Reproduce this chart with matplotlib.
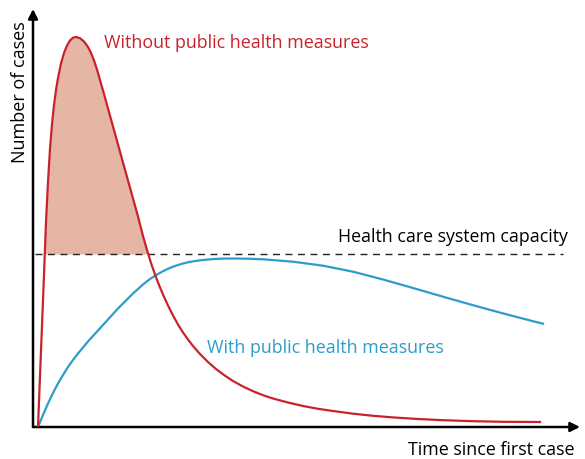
import matplotlib
matplotlib.use("Agg")
import matplotlib.pyplot as plt
import numpy as np

plt.rcParams['font.family'] = ['Open Sans', 'DejaVu Sans']

# time since first case (arbitrary units) and number of cases
t_red = [5, 8, 11, 13, 15, 17, 19, 21, 23, 25, 28, 31, 34, 37, 40, 43, 47, 51, 55,
         58, 61, 64, 67, 71, 75, 80, 85, 90, 95, 100, 105, 110, 114, 118, 122, 126,
         130, 135, 140, 145, 150, 155, 160, 167, 175, 183, 191, 200, 210, 220, 230,
         240, 255, 270, 285, 300, 320, 340, 360, 385, 410, 440, 470, 507]
cases_red = [0, 76, 152, 205, 245, 278, 303, 322, 337, 349, 363.5, 374, 381.5, 386.5,
             389.3, 390, 388.8, 385.5, 380, 374, 366.5, 357.5, 347, 333, 318.5, 300.5,
             282.5, 264.5, 246.5, 228.5, 210.5, 191, 177, 164, 152.5, 142, 132.5, 121.5,
             111.5, 102.5, 94.5, 87.5, 81, 73, 65, 58, 52, 46, 40.5, 35.8, 31.8, 28.5,
             24.5, 21, 18.2, 16, 13.3, 11.2, 9.6, 8, 6.8, 5.8, 5.2, 5]

t_blue = [5, 10, 15, 20, 25, 30, 35, 40, 45, 50, 55, 60, 65, 70, 75, 80, 85, 90, 95,
          100, 105, 110, 115, 120, 125, 130, 135, 140, 145, 150, 155, 160, 165, 170,
          180, 190, 200, 215, 230, 260, 290, 320, 350, 380, 410, 440, 470, 500, 510]
cases_blue = [0, 12, 23.5, 34, 43.5, 52, 60, 67, 73.5, 79.5, 85.5, 91, 96.5, 102,
              107.5, 113, 118.5, 123.5, 128.5, 133.5, 138, 142.5, 146.5, 150, 153, 155.8,
              158.2, 160.3, 162, 163.5, 164.7, 165.6, 166.4, 167, 167.9, 168.4, 168.5,
              168.3, 167.7, 165.3, 161.3, 155.3, 147.5, 139, 130.3, 121.8, 113.6, 105.8,
              103.3]

capacity = 173
t_max = 547
cases_max = 418

red = "#c8232c"
blue = "#2e9ccb"
fill = "#e6b6a4"

fig = plt.figure(figsize=(5.85, 4.6), dpi=100)
ax = fig.add_axes([33 / 585, 32 / 460, 547 / 585, 418 / 460])
ax.set_xlim(0, t_max)
ax.set_ylim(0, cases_max)
ax.axis("off")

# area above capacity
tr = np.array(t_red, dtype=float)
cr = np.array(cases_red, dtype=float)
ax.fill_between(tr, cr, capacity, where=cr >= capacity, interpolate=True,
                color=fill, lw=0, zorder=1)

ax.plot([2, 530], [capacity, capacity], color="#222222", lw=1, ls=(0, (5, 4)), zorder=2)
ax.plot(t_blue, cases_blue, color=blue, lw=1.6, zorder=3, solid_joinstyle="round")
ax.plot(t_red, cases_red, color=red, lw=1.6, zorder=4, solid_joinstyle="round")

# axes with arrows
ax.annotate("", xy=(0, 1), xytext=(0, 0), xycoords="axes fraction",
            arrowprops=dict(arrowstyle="-|>", lw=1.8, color="black", mutation_scale=14,
                            shrinkA=0, shrinkB=0), annotation_clip=False)
ax.annotate("", xy=(1, 0), xytext=(0, 0), xycoords="axes fraction",
            arrowprops=dict(arrowstyle="-|>", lw=1.8, color="black", mutation_scale=14,
                            shrinkA=0, shrinkB=0), annotation_clip=False)

ax.text(71, 385, "Without public health measures", color=red, fontsize=12.9,
        ha="left", va="center")
ax.text(174, 80, "With public health measures", color=blue, fontsize=12.9,
        ha="left", va="center")
ax.text(535, 191, "Health care system capacity", color="black", fontsize=12.8,
        ha="right", va="center")
fig.text(20 / 585, 1 - 92 / 460, "Number of cases", rotation=90, fontsize=13,
         ha="center", va="center")
fig.text(575 / 585, 1 - 450 / 460, "Time since first case", fontsize=12.9,
         ha="right", va="center")

fig.savefig("out.png", dpi=100)
